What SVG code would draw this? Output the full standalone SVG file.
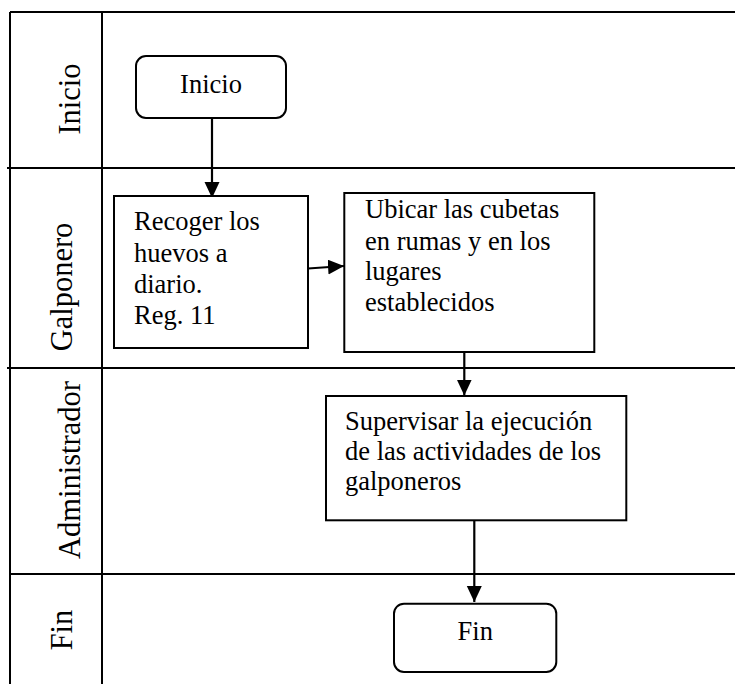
<svg xmlns="http://www.w3.org/2000/svg" width="735" height="684" viewBox="0 0 735 684">
<style>
.lane{stroke:#000;stroke-width:2;fill:none}
.box{stroke:#000;stroke-width:2;fill:#fff}
.t{font-size:26.5px;fill:#000}
.lbl{font-size:30.5px;fill:#000;text-anchor:middle}
.c{stroke:#000;stroke-width:2.2;fill:none}
</style>
<defs>
<marker id="ah" markerUnits="userSpaceOnUse" markerWidth="17" markerHeight="16" refX="16" refY="7.5" orient="auto">
<path d="M0,0 L16,7.5 L0,15 Z" fill="#000"/>
</marker>
</defs>
<rect width="735" height="684" fill="#fff"/>
<g font-family="'Times New Roman', 'Liberation Serif', serif">
<g id="lanes">
<line class="lane" x1="10" y1="12" x2="735" y2="12"/>
<line class="lane" x1="10" y1="12" x2="10" y2="684"/>
<line class="lane" x1="102" y1="12" x2="102" y2="684"/>
<line class="lane" x1="7" y1="168" x2="735" y2="168"/>
<line class="lane" x1="7" y1="368" x2="735" y2="368"/>
<line class="lane" x1="10" y1="574" x2="735" y2="574"/>
<text class="lbl" transform="translate(80,99) rotate(-90)">Inicio</text>
<text class="lbl" transform="translate(72,287) rotate(-90)">Galponero</text>
<text class="lbl" transform="translate(80,470) rotate(-90)">Administrador</text>
<text class="lbl" transform="translate(72,630) rotate(-90)">Fin</text>
</g>
<g id="connectors">
<line class="c" x1="212" y1="118" x2="212" y2="198" marker-end="url(#ah)"/>
<line class="c" x1="308" y1="268.5" x2="344" y2="266" marker-end="url(#ah)"/>
<line class="c" x1="464.3" y1="352" x2="464.3" y2="395.5" marker-end="url(#ah)"/>
<line class="c" x1="474.3" y1="520.3" x2="474.3" y2="602" marker-end="url(#ah)"/>
</g>
<g id="inicio">
<rect class="box" x="136" y="56" width="150" height="62" rx="10"/>
<text class="t" x="211" y="93" text-anchor="middle">Inicio</text>
</g>
<g id="recoger">
<rect class="box" x="114" y="196" width="194" height="152"/>
<text class="t" x="134" y="230">Recoger los</text>
<text class="t" x="134" y="261.5">huevos a</text>
<text class="t" x="134" y="293">diario.</text>
<text class="t" x="134" y="323.5">Reg. 11</text>
</g>
<g id="ubicar">
<rect class="box" x="344.3" y="193" width="250" height="159"/>
<text class="t" x="365" y="218.3">Ubicar las cubetas</text>
<text class="t" x="365" y="249.5">en rumas y en los</text>
<text class="t" x="365" y="280">lugares</text>
<text class="t" x="365" y="311">establecidos</text>
</g>
<g id="supervisar">
<rect class="box" x="326" y="396" width="300.3" height="124.3"/>
<text class="t" x="345" y="430.3">Supervisar la ejecución</text>
<text class="t" x="345" y="460.3">de las actividades de los</text>
<text class="t" x="345" y="490">galponeros</text>
</g>
<g id="fin">
<rect class="box" x="394" y="603.7" width="162.3" height="68.3" rx="10"/>
<text class="t" x="475.3" y="640.3" text-anchor="middle">Fin</text>
</g>
</g>
</svg>
